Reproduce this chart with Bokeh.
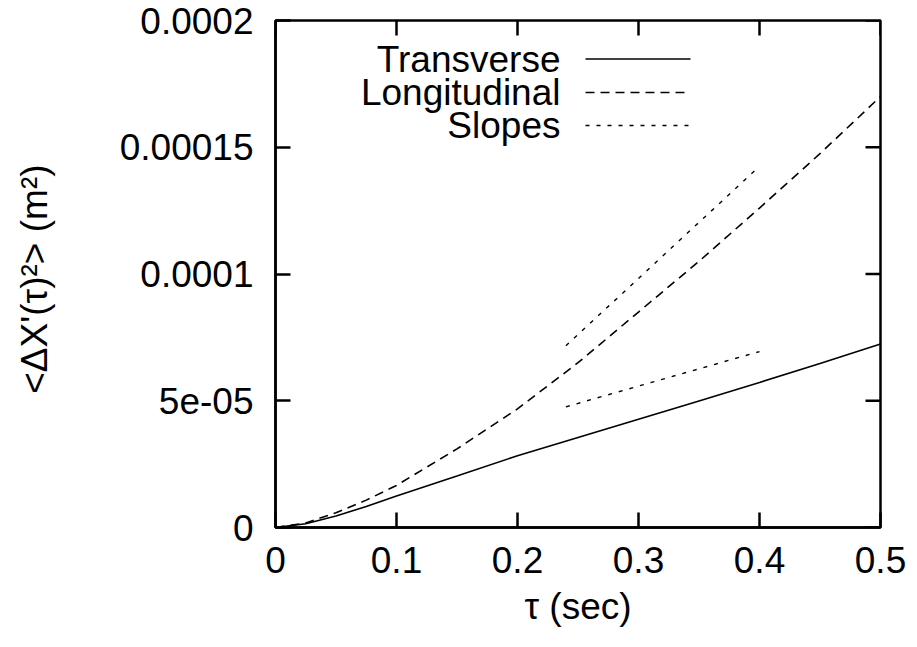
import math
from bokeh.plotting import figure
from bokeh.models import Range1d, FixedTicker, Label
from bokeh.embed import file_html
from bokeh.resources import INLINE

# Mean squared displacement versus lag time
tau = [0.0, 0.025, 0.05, 0.075, 0.1, 0.15, 0.2, 0.25, 0.3, 0.35, 0.4, 0.45, 0.5]
transverse = [0.0, 1.5e-6, 4.5e-6, 8.3e-6, 1.24e-5, 2.03e-5, 2.83e-5, 3.55e-5,
              4.27e-5, 4.99e-5, 5.72e-5, 6.47e-5, 7.24e-5]
longitudinal = [0.0, 1.8e-6, 5.8e-6, 1.08e-5, 1.66e-5, 3.1e-5, 4.68e-5, 6.5e-5,
                8.5e-5, 1.05e-4, 1.26e-4, 1.475e-4, 1.70e-4]

# Reference slope segments
slope_tau = [0.24, 0.40]
slope_long = [7.17e-5, 1.425e-4]
slope_trans = [4.76e-5, 6.94e-5]

x_ticks = [0.0, 0.1, 0.2, 0.3, 0.4, 0.5]
x_tick_labels = ["0", "0.1", "0.2", "0.3", "0.4", "0.5"]
y_ticks = [0.0, 5e-5, 1e-4, 1.5e-4, 2e-4]
y_tick_labels = ["0", "5e-05", "0.0001", "0.00015", "0.0002"]

series_names = ["Transverse", "Longitudinal", "Slopes"]

FONT = "Liberation Sans"
FS = "37px"
LW_FRAME = 2.5
TICK = 15
DASH_LONG = "9 6"
DASH_SLOPE = "4 7"

# page and frame geometry (pixels)
W, H = 917, 647
F_LEFT, F_RIGHT, F_TOP, F_BOTTOM = 275, 880, 20, 527
X0, X1, Y0, Y1 = 0.0, 0.5, 0.0, 0.0002

p = figure(width=W, height=H, output_backend="svg", toolbar_location=None,
           title=None,
           x_range=Range1d(X0, X1), y_range=Range1d(Y0, Y1),
           min_border_left=F_LEFT, min_border_right=W - F_RIGHT,
           min_border_top=F_TOP, min_border_bottom=H - F_BOTTOM,
           x_axis_label="τ (sec)",
           y_axis_label="<ΔX'(τ)²>  (m²)")

p.background_fill_color = "white"
p.border_fill_color = "white"
p.xgrid.visible = False
p.ygrid.visible = False
p.outline_line_color = "black"
p.outline_line_width = LW_FRAME


def px_to_data(xs, ys):
    """Page pixel position -> data coordinates of the frame."""
    x = X0 + (xs - F_LEFT) * (X1 - X0) / (F_RIGHT - F_LEFT)
    y = Y0 + (F_BOTTOM - ys) * (Y1 - Y0) / (F_BOTTOM - F_TOP)
    return x, y


def style_axis(ax, ticks, labels):
    ax.ticker = FixedTicker(ticks=ticks)
    ax.minor_tick_line_color = None
    ax.major_tick_in = TICK
    ax.major_tick_out = 0
    ax.major_tick_line_width = LW_FRAME
    ax.major_tick_line_color = "black"
    ax.axis_line_color = "black"
    ax.axis_line_width = LW_FRAME
    ax.major_label_text_font = FONT
    ax.axis_label_text_font = FONT
    ax.axis_label_text_font_style = "normal"
    ax.axis_label_text_color = "black"
    ax.major_label_text_color = "black"
    ax.major_label_overrides = {t: s for t, s in zip(ticks, labels)}
    ax.major_label_text_font_size = FS
    ax.axis_label_text_font_size = FS


style_axis(p.xaxis[0], x_ticks, x_tick_labels)
style_axis(p.yaxis[0], y_ticks, y_tick_labels)
p.xaxis[0].major_label_standoff = 19
p.xaxis[0].axis_label_standoff = 10
p.yaxis[0].major_label_standoff = 22
p.yaxis[0].axis_label_standoff = 62

# Mirrored inward ticks on the top and right edges
p.ray(x=[X1] * len(y_ticks), y=y_ticks, length=TICK, length_units="screen",
      angle=math.pi, line_color="black", line_width=LW_FRAME)
p.ray(x=x_ticks, y=[Y1] * len(x_ticks), length=TICK, length_units="screen",
      angle=-math.pi / 2, line_color="black", line_width=LW_FRAME)

p.line(tau, transverse, line_color="black", line_width=1.6)
p.line(tau, longitudinal, line_color="black", line_width=1.6, line_dash=DASH_LONG)
p.line(slope_tau, slope_long, line_color="black", line_width=1.4, line_dash=DASH_SLOPE)
p.line(slope_tau, slope_trans, line_color="black", line_width=1.4, line_dash=DASH_SLOPE)

# Key: text on the left, sample line on the right
KEY_TEXT_RIGHT = 560
KEY_LINE = (585, 690)
KEY_ROWS = [58.5, 92, 125]
key_dash = ["solid", DASH_LONG, DASH_SLOPE]
for name, ys, dash in zip(series_names, KEY_ROWS, key_dash):
    tx, ty = px_to_data(KEY_TEXT_RIGHT, ys)
    p.add_layout(Label(x=tx, y=ty, text=name, text_align="right",
                       text_baseline="middle", text_font=FONT,
                       text_font_size=FS, text_color="black"))
    lx0, _ = px_to_data(KEY_LINE[0], ys)
    lx1, _ = px_to_data(KEY_LINE[1], ys)
    p.line([lx0, lx1], [ty, ty], line_color="black", line_width=1.5, line_dash=dash)

open("out.html", "w").write(file_html(p, INLINE))
